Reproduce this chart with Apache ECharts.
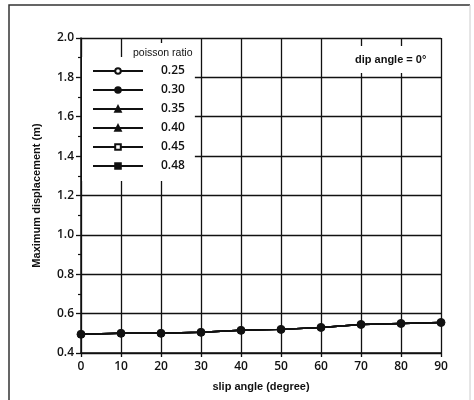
<!DOCTYPE html>
<html>
<head>
<meta charset="utf-8">
<script src="https://cdn.jsdelivr.net/npm/echarts@6/dist/echarts.min.js"></script>
<style>
  html, body { margin: 0; padding: 0; background: #fff; }
  #chart { width: 474px; height: 400px; }
</style>
</head>
<body>
<div id="chart"></div>
<script>
// Slip angle (degrees) on the horizontal axis
const slipAngles = [0, 10, 20, 30, 40, 50, 60, 70, 80, 90];
// Maximum displacement (m); the curves for every Poisson ratio coincide
const maxDisplacement = [0.495, 0.50, 0.50, 0.505, 0.515, 0.52, 0.53, 0.545, 0.55, 0.555];
// Poisson ratios shown in the key, with their marker shapes
const poissonRatios = ['0.25', '0.30', '0.35', '0.40', '0.45', '0.48'];
const ratioSymbols = ['emptyCircle', 'circle', 'triangle', 'triangle', 'emptyRect', 'rect'];

const ink = '#111';
const labelFont = 'Open Sans';

const series = poissonRatios.map((ratio, i) => ({
  name: ratio,
  type: 'line',
  data: slipAngles.map((a, j) => [a, maxDisplacement[j]]),
  symbol: ratioSymbols[i],
  symbolSize: ratio === '0.30' ? 8 : 3,
  z: ratio === '0.30' ? 5 : 2,
  itemStyle: { color: ink, borderColor: ink, borderWidth: 1 },
  lineStyle: { color: ink, width: 1.5 },
  emphasis: { disabled: true },
  silent: true
}));

const chart = echarts.init(document.getElementById('chart'), null, { renderer: 'canvas' });
chart.setOption({
  animation: false,
  backgroundColor: '#fff',
  grid: { left: 81, top: 38, right: 33, bottom: 47, containLabel: false },
  title: [
    {
      text: 'poisson ratio',
      left: 128, top: 43,
      padding: [5, 4, 3, 5],
      backgroundColor: '#fff',
      textStyle: { fontFamily: 'Liberation Sans', fontSize: 10.5, fontWeight: 'normal', color: ink }
    },
    {
      text: 'dip angle = 0°',
      left: 346, top: 46,
      padding: [8, 6, 8, 9],
      backgroundColor: '#fff',
      textStyle: { fontFamily: 'Liberation Sans', fontSize: 11, fontWeight: 'bold', color: ink }
    }
  ],
  legend: {
    orient: 'vertical',
    left: 82, top: 57,
    padding: [6, 10, 7, 10],
    backgroundColor: '#fff',
    itemWidth: 50, itemHeight: 7, itemGap: 3,
    data: poissonRatios,
    selectedMode: false,
    textStyle: {
      fontFamily: labelFont, fontSize: 12, fontWeight: 600, color: ink,
      lineHeight: 16, padding: [0, 0, 0, 13]
    }
  },
  xAxis: {
    type: 'value',
    min: 0, max: 90, interval: 10,
    name: 'slip angle (degree)',
    nameLocation: 'middle',
    nameGap: 28,
    nameTextStyle: { fontFamily: 'Liberation Sans', fontSize: 11, fontWeight: 'bold', color: ink },
    axisLine: { show: true, onZero: false, lineStyle: { color: ink, width: 1.5 } },
    axisTick: { show: true, length: 4, lineStyle: { color: ink, width: 1.3 } },
    axisLabel: { margin: 8, fontFamily: labelFont, fontSize: 12, fontWeight: 600, color: ink },
    splitLine: { show: true, lineStyle: { color: ink, width: 1.3 } }
  },
  yAxis: {
    type: 'value',
    min: 0.4, max: 2.0, interval: 0.2,
    name: 'Maximum displacement (m)',
    nameLocation: 'middle',
    nameGap: 39,
    nameTextStyle: { fontFamily: 'Liberation Sans', fontSize: 11, fontWeight: 'bold', color: ink },
    axisLine: { show: true, onZero: false, lineStyle: { color: ink, width: 1.5 } },
    axisTick: { show: true, length: 5, lineStyle: { color: ink, width: 1.3 } },
    minorTick: { show: true, splitNumber: 2, length: 3, lineStyle: { color: ink, width: 1.2 } },
    axisLabel: {
      margin: 7, fontFamily: labelFont, fontSize: 12, fontWeight: 600, color: ink,
      formatter: v => v.toFixed(1)
    },
    splitLine: { show: true, lineStyle: { color: ink, width: 1.3 } }
  },
  graphic: [
    {
      type: 'polyline',
      silent: true,
      shape: { points: [[9, 400], [9, 5], [470, 5]] },
      style: { stroke: '#333', lineWidth: 1.5, fill: null }
    },
    {
      type: 'line',
      silent: true,
      shape: { x1: 470, y1: 5, x2: 470, y2: 400 },
      style: { stroke: '#ccc', lineWidth: 1 }
    }
  ],
  series: series
});
</script>
</body>
</html>
